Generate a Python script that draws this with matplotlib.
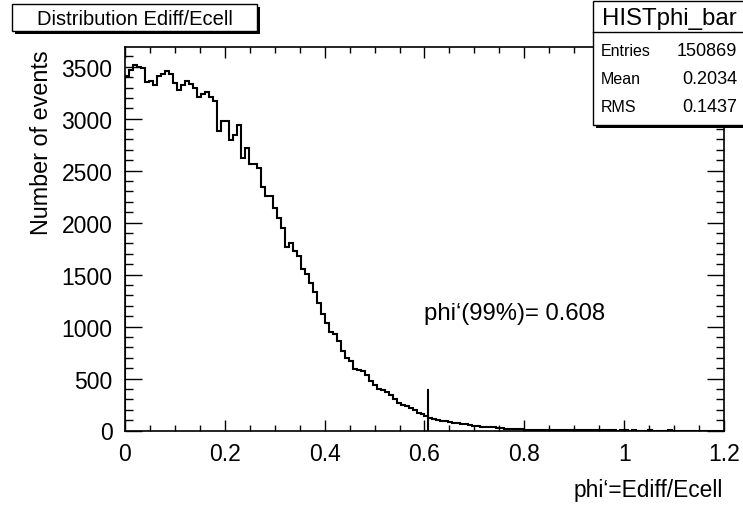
import matplotlib
matplotlib.use('Agg')
import matplotlib.pyplot as plt
import numpy as np
from matplotlib.ticker import MultipleLocator, FixedLocator
from matplotlib.patches import Rectangle

plt.rcParams['font.family'] = ['Liberation Sans', 'DejaVu Sans']

# ---------------- data ----------------
counts = [
    3415, 3466, 3514, 3498, 3486, 3352, 3362, 3328, 3408, 3434,
    3460, 3426, 3346, 3280, 3325, 3364, 3332, 3293, 3210, 3236,
    3260, 3210, 3170, 2885, 2975, 2975, 2794, 2840, 2941, 2625,
    2715, 2562, 2562, 2526, 2345, 2255, 2255, 2140, 2045, 1953,
    1763, 1801, 1727, 1683, 1558, 1507, 1423, 1330, 1230, 1117,
    1037, 947, 925, 860, 764, 700, 672, 590, 578, 570,
    530, 480, 435, 400, 385, 370, 340, 300, 262, 250,
    232, 220, 195, 172, 156, 142, 125, 112, 100, 95,
    90, 82, 75, 68, 66, 58, 52, 48, 44, 38,
    33, 30, 30, 24, 20, 18, 16, 13, 12, 10,
    8, 7, 6, 5, 6, 4, 4, 3, 4, 3,
    3, 2, 2, 3, 2, 2, 1, 2, 1, 1,
    1, 1, 1, 0, 1, 1, 0, 1, 0, 0,
    0, 1, 0, 0, 0, 0, 1, 0, 0, 0,
    0, 0, 0, 0, 0, 0, 0, 0, 0, 0,
]
x_low, x_high = 0.0, 1.2
x_ticks = [0.0, 0.2, 0.4, 0.6, 0.8, 1.0, 1.2]
x_tick_labels = ['0', '0.2', '0.4', '0.6', '0.8', '1', '1.2']
y_ticks = [0, 500, 1000, 1500, 2000, 2500, 3000, 3500]
y_tick_labels = ['0', '500', '1000', '1500', '2000', '2500', '3000', '3500']
quantile_x = 0.608
quantile_line_height = 385
quantile_text = 'phi\u2018(99%)= 0.608'
quantile_text_pos = (0.6, 1070)
title_text = 'Distribution Ediff/Ecell'
x_label = 'phi\u2018=Ediff/Ecell'
y_label = 'Number of events'
stats_name = 'HISTphi_bar'
stats_labels = ['Entries', 'Mean', 'RMS']
stats_values = ['150869', '0.2034', '0.1437']

# ---------------- layout ----------------
W, H = 743, 506
fig = plt.figure(figsize=(W / 100, H / 100), dpi=100)


def fx(x):
    return x / W


def fy(y):
    return 1 - y / H


ax_l, ax_r, ax_t, ax_b = 125, 724, 48, 431.5
ax = fig.add_axes([fx(ax_l), fy(ax_b), (ax_r - ax_l) / W, (ax_b - ax_t) / H])

edges = np.linspace(x_low, x_high, len(counts) + 1)
ax.stairs(counts, edges, color='black', lw=1.5)
ax.plot([quantile_x, quantile_x], [0, quantile_line_height], color='black', lw=1.5)
ax.text(quantile_text_pos[0], quantile_text_pos[1], quantile_text, fontsize=17.2,
        ha='left', va='baseline')

ax.set_xlim(x_low, x_high)
ax.set_ylim(0, max(counts) * 1.05)

ax.xaxis.set_major_locator(FixedLocator(x_ticks))
ax.set_xticklabels(x_tick_labels)
ax.xaxis.set_minor_locator(MultipleLocator(0.05))
ax.yaxis.set_major_locator(FixedLocator(y_ticks))
ax.set_yticklabels(y_tick_labels)
ax.yaxis.set_minor_locator(MultipleLocator(100))

ax.tick_params(axis='both', which='both', direction='in', top=True, right=True,
               width=1.0, labelsize=16.5)
ax.tick_params(axis='x', which='major', length=8, pad=8)
ax.tick_params(axis='x', which='minor', length=4.3)
ax.tick_params(axis='y', which='major', length=12, pad=9)
ax.tick_params(axis='y', which='minor', length=5.8)
for s in ax.spines.values():
    s.set_linewidth(1.2)

# axis titles (ROOT style: aligned at the axis end)
fig.text(fx(ax_r - 1), fy(497), x_label, fontsize=16.4, ha='right', va='baseline')
fig.text(fx(42), fy(50), y_label, fontsize=16.8, rotation=90, ha='center', va='top')

# overlay in pixel coords for the boxes
ov = fig.add_axes([0, 0, 1, 1])
ov.set_xlim(0, W)
ov.set_ylim(H, 0)
ov.axis('off')
ov.patch.set_alpha(0)

# title box with shadow
ov.add_patch(Rectangle((15, 8), 245, 27, fc='black', ec='none'))
ov.add_patch(Rectangle((12, 5), 245, 27, fc='white', ec='black', lw=1.0))
ov.text(134.5, 19, title_text, fontsize=14.5, ha='center', va='center')

# stats box with shadow
ov.add_patch(Rectangle((596, 5), 160, 124, fc='black', ec='none'))
ov.add_patch(Rectangle((593, 2), 160, 124, fc='white', ec='black', lw=1.0))
ov.plot([593, 743], [33, 33], color='black', lw=1.0)
ov.text(669, 19, stats_name, fontsize=17.3, ha='center', va='center')
row_y = [51, 79, 107]
for lab, val, yy in zip(stats_labels, stats_values, row_y):
    ov.text(601, yy, lab, fontsize=11.5, ha='left', va='center')
    ov.text(737, yy, val, fontsize=13, ha='right', va='center')

fig.savefig('out.png', dpi=100)
